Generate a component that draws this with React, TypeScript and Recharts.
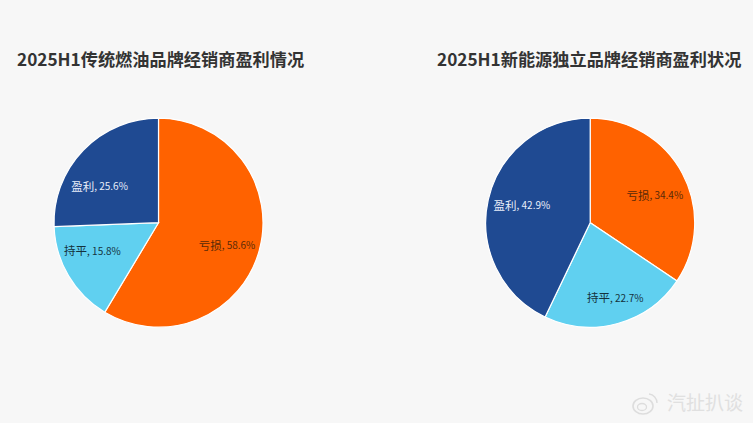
import { Cell, Pie, PieChart } from "recharts";

const statuses = ["亏损", "持平", "盈利"];
const fuelShares = [58.6, 15.8, 25.6];
const evShares = [34.4, 22.7, 42.9];
const sliceColors = ["#FF6200", "#60D0F0", "#1F4A92"];
const labelColors = ["#5a2a08", "#15333d", "#e8eefa"];

const fuelTitle = "2025H1传统燃油品牌经销商盈利情况";
const evTitle = "2025H1新能源独立品牌经销商盈利状况";
const watermark = "汽扯扒谈";

const fuelData = statuses.map((name, i) => ({ name, value: fuelShares[i] }));
const evData = statuses.map((name, i) => ({ name, value: evShares[i] }));

const font = '"Noto Sans CJK SC", "Noto Sans", sans-serif';

// the labels in the source are hand placed, not exactly on the radial midpoint
const fuelNudge = [[-1, 3], [-4, -9], [-7, 13]];
const evNudge = [[1, 6], [6, 5], [2, -2]];

const makeLabel = (nudge: number[][]) => (props: any) => {
  const { cx, cy, midAngle, outerRadius, name, value, index } = props;
  const r = outerRadius * 0.69;
  const rad = (midAngle * Math.PI) / 180;
  return (
    <text
      x={cx + r * Math.cos(rad) + nudge[index][0]}
      y={cy - r * Math.sin(rad) + nudge[index][1]}
      fill={labelColors[index]}
      fontSize={10}
      fontFamily={font}
      textAnchor="middle"
      dominantBaseline="central"
    >
      <tspan fontSize={11.5}>{name}</tspan>
      {`, ${value.toFixed(1)}%`}
    </text>
  );
};

export default function App() {
  return (
    <div style={{ position: "fixed", left: 0, top: 0, width: 753, height: 423, background: "#F7F7F7" }}>
      <PieChart width={753} height={423} margin={{ top: 0, right: 0, bottom: 0, left: 0 }}>
        <text x={17} y={66} fill="#333333" fontSize={17.2} fontWeight={700} fontFamily={font}>
          {fuelTitle}
        </text>
        <text x={437} y={66} fill="#333333" fontSize={17.2} fontWeight={700} fontFamily={font}>
          {evTitle}
        </text>
        <Pie
          data={fuelData}
          dataKey="value"
          nameKey="name"
          cx={158.5}
          cy={222.7}
          outerRadius={104.5}
          startAngle={90}
          endAngle={-270}
          stroke="#FFFFFF"
          strokeWidth={1.2}
          label={makeLabel(fuelNudge)}
          labelLine={false}
          isAnimationActive={false}
        >
          {fuelData.map((d, i) => (
            <Cell key={d.name} fill={sliceColors[i]} />
          ))}
        </Pie>
        <Pie
          data={evData}
          dataKey="value"
          nameKey="name"
          cx={590.2}
          cy={222.7}
          outerRadius={104.5}
          startAngle={90}
          endAngle={-270}
          stroke="#FFFFFF"
          strokeWidth={1.2}
          label={makeLabel(evNudge)}
          labelLine={false}
          isAnimationActive={false}
        >
          {evData.map((d, i) => (
            <Cell key={d.name} fill={sliceColors[i]} />
          ))}
        </Pie>
        <ellipse cx={643} cy={406} rx={10} ry={8} fill="none" stroke="#DDDDDD" strokeWidth={1.6} />
        <ellipse cx={642} cy={407} rx={4.5} ry={3.5} fill="none" stroke="#DDDDDD" strokeWidth={1.3} />
        <path d="M649 394 A9 9 0 0 1 657 403" fill="none" stroke="#DDDDDD" strokeWidth={1.4} />
        <text x={667} y={410} fill="#E0E0E0" fontSize={19} fontFamily={font}>
          {watermark}
        </text>
      </PieChart>
    </div>
  );
}
